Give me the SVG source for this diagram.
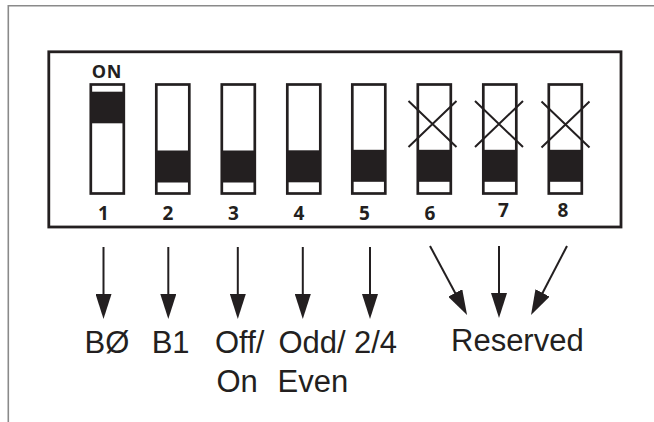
<svg xmlns="http://www.w3.org/2000/svg" width="654" height="422" viewBox="0 0 654 422">
  <style>
    .frame { fill: none; stroke: #8a8a8a; stroke-width: 1.6; }
    .box { fill: #ffffff; stroke: #231f20; stroke-width: 2.8; }
    .sw { fill: #ffffff; stroke: #231f20; stroke-width: 2.7; }
    .knob { fill: #231f20; }
    .x { stroke: #231f20; stroke-width: 2; fill: none; }
    .num { font-family: "Open Sans", "DejaVu Sans", sans-serif; font-weight: bold; font-size: 19px; fill: #231f20; text-anchor: middle; }
    .on { font-family: "Open Sans", "DejaVu Sans", sans-serif; font-weight: bold; font-size: 18px; letter-spacing: 0.8px; fill: #231f20; text-anchor: middle; }
    .lbl { font-family: "Liberation Sans", Arial, sans-serif; font-size: 31px; fill: #231f20; }
    .arr { stroke: #231f20; stroke-width: 2; fill: none; marker-end: url(#head); }
  </style>
  <defs>
    <marker id="head" viewBox="0 0 25 16" refX="19" refY="8" markerWidth="25" markerHeight="16" markerUnits="userSpaceOnUse" orient="auto">
      <path d="M0,0 L25,8 L0,16 Z" fill="#231f20"/>
    </marker>
  </defs>
  <rect width="654" height="422" fill="#ffffff"/>
  <path class="frame" d="M8.3,422 V5.8 H654"/>

  <g id="dip-switch">
    <rect class="box" x="48.8" y="51.8" width="572.2" height="175.2"/>
    <text class="on" x="107" y="77.8">ON</text>
  </g>

  <g id="switch1">
    <rect class="sw" x="90.8" y="84.5" width="33" height="109"/>
    <rect class="knob" x="90.8" y="91.7" width="33" height="31.6"/>
    <text class="num" x="103.5" y="219.5">1</text>
  </g>
  <g id="switch2">
    <rect class="sw" x="156.3" y="84.5" width="33" height="109"/>
    <rect class="knob" x="156.3" y="150.5" width="33" height="32"/>
    <text class="num" x="168" y="219.5">2</text>
  </g>
  <g id="switch3">
    <rect class="sw" x="221.8" y="84.5" width="33" height="109"/>
    <rect class="knob" x="221.8" y="150.5" width="33" height="32"/>
    <text class="num" x="233.5" y="219.5">3</text>
  </g>
  <g id="switch4">
    <rect class="sw" x="287.3" y="84.5" width="33" height="109"/>
    <rect class="knob" x="287.3" y="150.3" width="33" height="32"/>
    <text class="num" x="299" y="219.5">4</text>
  </g>
  <g id="switch5">
    <rect class="sw" x="352.3" y="84.5" width="33" height="109"/>
    <rect class="knob" x="352.3" y="149.8" width="33" height="32"/>
    <text class="num" x="364.5" y="219.5">5</text>
  </g>
  <g id="switch6">
    <rect class="sw" x="417.8" y="84.5" width="33" height="109"/>
    <rect class="knob" x="417.8" y="149.8" width="33" height="32"/>
    <path class="x" d="M408.5,101 L456.5,147 M456.5,101 L408.5,147"/>
    <text class="num" x="430" y="219.5">6</text>
  </g>
  <g id="switch7">
    <rect class="sw" x="483.3" y="84.5" width="33" height="109"/>
    <rect class="knob" x="483.3" y="149.8" width="33" height="32"/>
    <path class="x" d="M475,101 L523,147 M523,101 L475,147"/>
    <text class="num" x="503.5" y="216.5">7</text>
  </g>
  <g id="switch8">
    <rect class="sw" x="548.8" y="84.5" width="33" height="109"/>
    <rect class="knob" x="548.8" y="149.8" width="33" height="32"/>
    <path class="x" d="M541.5,101.5 L589.5,147.5 M589.5,101.5 L541.5,147.5"/>
    <text class="num" x="563" y="216.5">8</text>
  </g>

  <g id="connectors">
    <line class="arr" x1="103.5" y1="247" x2="103.5" y2="313"/>
    <line class="arr" x1="168.3" y1="247" x2="168.3" y2="313"/>
    <line class="arr" x1="237.8" y1="247" x2="237.8" y2="313"/>
    <line class="arr" x1="302.8" y1="247" x2="302.8" y2="313"/>
    <line class="arr" x1="370" y1="247" x2="370" y2="313"/>
    <line class="arr" x1="430" y1="246" x2="464.2" y2="309.7"/>
    <line class="arr" x1="499" y1="246" x2="499" y2="312"/>
    <line class="arr" x1="567" y1="246" x2="533.8" y2="309.8"/>
  </g>

  <g id="labels">
    <text class="lbl" x="84.5" y="353">BØ</text>
    <text class="lbl" x="151.7" y="353">B1</text>
    <text class="lbl" x="215" y="353">Off/</text>
    <text class="lbl" x="278.5" y="353">Odd/</text>
    <text class="lbl" x="354" y="353">2/4</text>
    <text class="lbl" x="451" y="351">Reserved</text>
    <text class="lbl" x="216.5" y="392">On</text>
    <text class="lbl" x="277.5" y="392">Even</text>
  </g>
</svg>
